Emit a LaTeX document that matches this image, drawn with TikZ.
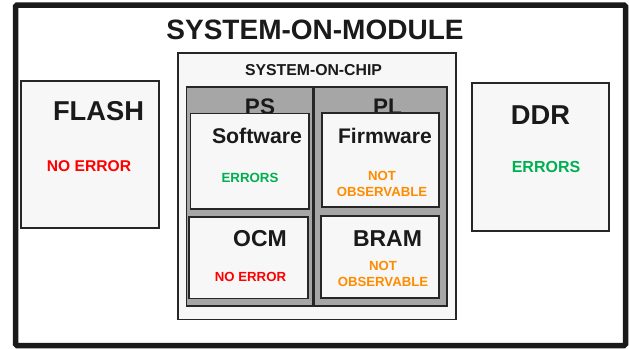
\documentclass[tikz,border=0pt]{standalone}
\usepackage{fontspec}
\setmainfont{Liberation Sans}
\definecolor{inkdark}{HTML}{1A1A1A}
\definecolor{boxline}{HTML}{262626}
\definecolor{boxfill}{HTML}{F7F7F7}
\definecolor{blockgray}{HTML}{A6A6A6}
\definecolor{errred}{HTML}{FF0000}
\definecolor{errgreen}{HTML}{00B050}
\definecolor{errorange}{HTML}{FF8C00}
\tikzset{
  blk/.style={draw=boxline, fill=boxfill, line width=1.5pt, inner sep=0pt,
    outer sep=0pt, anchor=north west},
  outerbox/.style={draw=inkdark, fill=white, line width=5.5pt, inner sep=0pt,
    outer sep=0pt, anchor=north west, rounded corners=1.5pt},
  graybox/.style={blk, fill=blockgray, line width=1.8pt},
  lbl/.style={anchor=base, inner sep=0pt, text=inkdark, font=\bfseries\fontsize{#1}{#1}\selectfont},
  status/.style={anchor=base, inner sep=0pt, align=center,
    font=\bfseries\fontsize{#1}{16}\selectfont},
}
\begin{document}
\begin{tikzpicture}[x=1pt,y=-1pt]
\useasboundingbox (0,0) rectangle (629,348);

% module frame and title
\node[outerbox, minimum width=610pt, minimum height=340.5pt] (som) at (15.5,5) {};
\node[lbl=28] (somtitle) at (315,39) {SYSTEM-ON-MODULE};

% external memories
\node[blk, minimum width=138pt, minimum height=147pt] (flash) at (21,81) {};
\node[lbl=27.3] (flashlbl) at (98.5,120) {FLASH};
\node[status=15.6, text=errred] (flashst) at (89,171) {NO ERROR};

\node[blk, minimum width=137pt, minimum height=148pt] (ddr) at (472,83) {};
\node[lbl=27.3] (ddrlbl) at (540.5,124) {DDR};
\node[status=16, text=errgreen] (ddrst) at (546,172) {ERRORS};

% system on chip
\node[blk, line width=1.2pt, minimum width=278pt, minimum height=266.5pt] (soc) at (178,53) {};
\node[lbl=15.8] (soclbl) at (313.5,75) {SYSTEM-ON-CHIP};

% processing system and programmable logic
\node[graybox, minimum width=126pt, minimum height=219pt] (ps) at (186.5,87) {};
\node[graybox, minimum width=133pt, minimum height=219pt] (pl) at (314,87) {};
\node[lbl=22.5] (pslbl) at (260,114) {PS};
\node[lbl=22.5] (pllbl) at (387.5,114) {PL};

% PS contents
\node[blk, minimum width=118.5pt, minimum height=95.5pt] (sw) at (190.5,113.5) {};
\node[lbl=21.3] (swlbl) at (257,143) {Software};
\node[status=13.3, text=errgreen] (swst) at (250,182) {ERRORS};

\node[blk, minimum width=119pt, minimum height=81.5pt] (ocm) at (189,217) {};
\node[lbl=23] (ocmlbl) at (260,246) {OCM};
\node[status=13.2, text=errred] (ocmst) at (250.5,281) {NO ERROR};

% PL contents (two-line notes are anchored on the baseline of their last line)
\node[blk, minimum width=117pt, minimum height=94pt] (fw) at (322,113) {};
\node[lbl=21.1] (fwlbl) at (385,143) {Firmware};
\node[status=13.2, text=errorange] (fwst) at (382,196) {NOT\\OBSERVABLE};

\node[blk, minimum width=118pt, minimum height=82pt] (bram) at (321,216) {};
\node[lbl=23] (bramlbl) at (387.5,246) {BRAM};
\node[status=13.2, text=errorange] (bramst) at (383,286) {NOT\\OBSERVABLE};
\end{tikzpicture}
\end{document}
